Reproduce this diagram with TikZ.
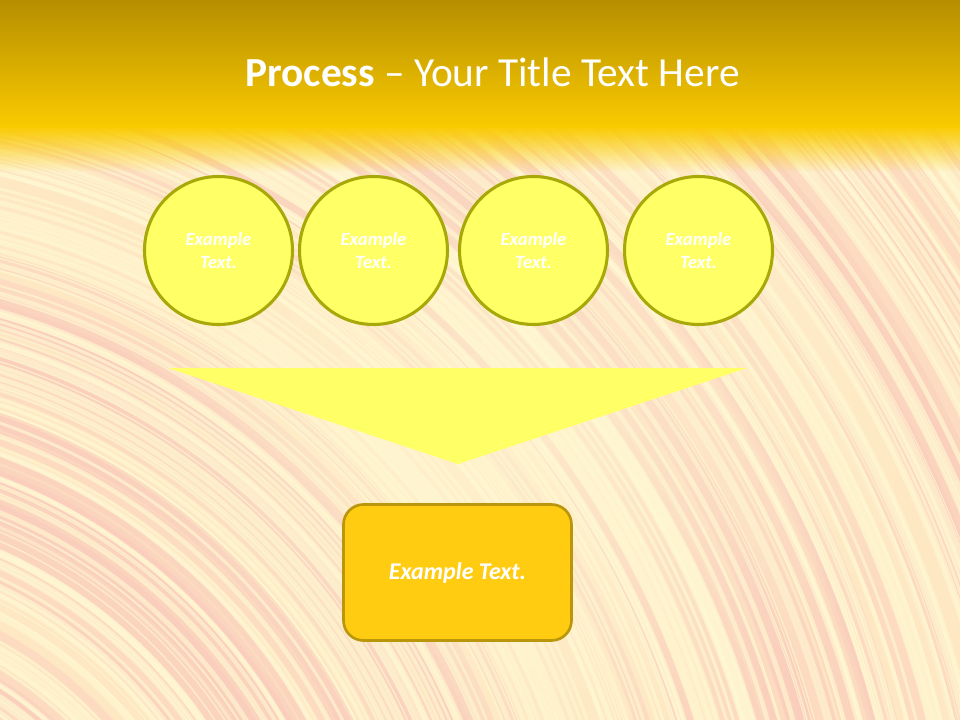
\documentclass[tikz,border=0pt]{standalone}
\usepackage{fontspec}
\setmainfont{Carlito}
\usetikzlibrary{fadings}
\definecolor{hdrtop}{RGB}{182,142,0}
\definecolor{hdrbot}{RGB}{250,203,0}
\definecolor{bodybase}{RGB}{254,232,196}
\definecolor{pinkband}{RGB}{250,204,188}
\definecolor{palestreak}{RGB}{255,248,210}
\definecolor{circfill}{RGB}{255,255,102}
\definecolor{circline}{RGB}{168,168,8}
\definecolor{boxfill}{RGB}{255,204,17}
\definecolor{boxline}{RGB}{186,150,10}
\tikzfading[name=fadedown, top color=transparent!0, bottom color=transparent!100]
\tikzfading[name=softglow, inner color=transparent!0, outer color=transparent!100]
\tikzset{
  circnode/.style={circle, draw=circline, line width=2.3pt, fill=circfill,
    minimum size=148*0.75pt, inner sep=0pt, align=center, text=white,
    font=\fontsize{14}{17.25}\selectfont\bfseries\itshape},
  boxnode/.style={rectangle, rounded corners=15pt, draw=boxline, line width=2pt,
    fill=boxfill, minimum width=228*0.75pt, minimum height=136*0.75pt,
    text=white, font=\fontsize{18}{21}\selectfont\bfseries\itshape},
  funnel/.style={fill=circfill, draw=none}
}
\begin{document}
\begin{tikzpicture}[x=0.75pt,y=-0.75pt]
\useasboundingbox (0,0) rectangle (960,720);
% body background
\fill[bodybase] (0,0) rectangle (960,720);
\begin{scope}
  \clip (0,120) rectangle (960,720);
  \pgfmathsetseed{11}
  \foreach \i in {1,...,80}{
    \pgfmathsetmacro\r{320+rnd*1180}
    \pgfmathsetmacro\w{8+rnd*24}
    \draw[pinkband, opacity=0.45, line width=\w*0.75pt] (-200,1000) circle[radius=\r];
  }
  \foreach \i in {1,...,280}{
    \pgfmathsetmacro\r{320+rnd*1180}
    \pgfmathsetmacro\w{1+rnd*4}
    \draw[palestreak, opacity=0.65, line width=\w*0.75pt] (-200,1000) circle[radius=\r];
  }
  % light glow in the middle
  \fill[palestreak, opacity=0.6, path fading=softglow] (520,430) ellipse[x radius=420, y radius=330];
  % fade from header
  \fill[hdrbot, path fading=fadedown] (0,126) rectangle (960,172);
\end{scope}
% header
\shade[top color=hdrtop, bottom color=hdrbot] (0,0) rectangle (960,128);
\node[anchor=base, text=white, font=\fontsize{31}{36}\selectfont] (title) at (492.5,87)
  {\textbf{Process} – Your Title Text Here};
% circles
\node[circnode] (c1) at (218.5,250.5) {Example\\Text.};
\node[circnode] (c2) at (373.5,250.5) {Example\\Text.};
\node[circnode] (c3) at (533.5,250.5) {Example\\Text.};
\node[circnode] (c4) at (698.5,250.5) {Example\\Text.};
% funnel triangle
\coordinate (fl) at (168,368);
\coordinate (fr) at (747,368);
\coordinate (ft) at (458,464);
\fill[funnel] (fl) -- (fr) -- (ft) -- cycle;
% result box
\node[boxnode] (res) at (457.5,572.5) {Example Text.};
\end{tikzpicture}
\end{document}
